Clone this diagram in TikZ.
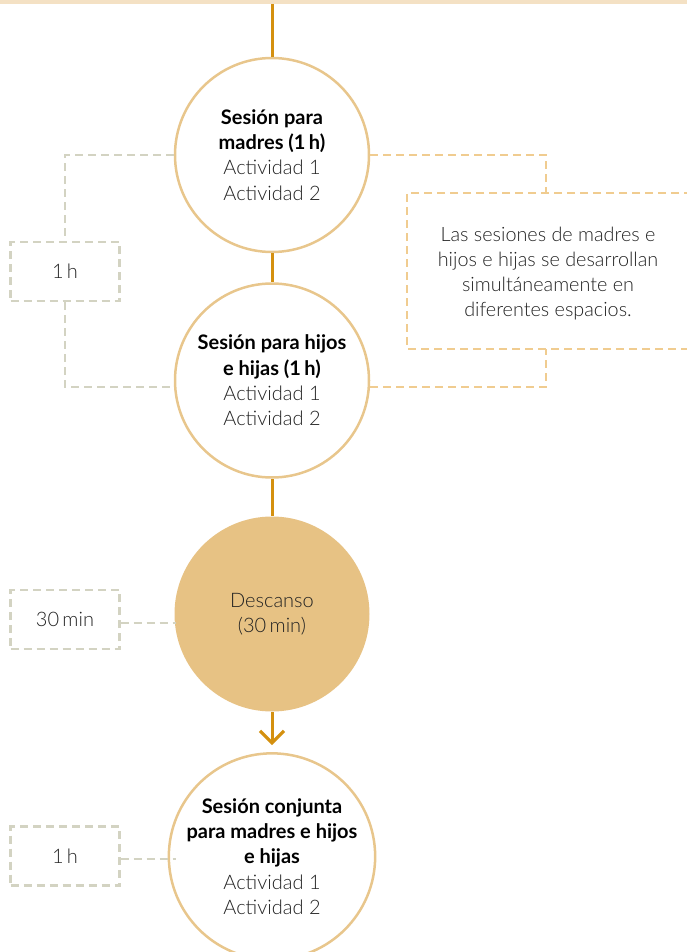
\documentclass[tikz,border=0pt]{standalone}
\usepackage{fontspec}
\setmainfont{Lato}[UprightFont={* Light}, BoldFont={* Bold}]
\usetikzlibrary{arrows.meta,calc}
\definecolor{topbar}{HTML}{F4E1C4}
\definecolor{flow}{HTML}{D4900F}
\definecolor{ring}{HTML}{E8C68C}
\definecolor{restfill}{HTML}{E7C284}
\definecolor{graydash}{HTML}{D3D3C2}
\definecolor{tandash}{HTML}{F0CC90}
\definecolor{txt}{HTML}{222222}
\tikzset{
  x=1pt, y=-1pt,
  sess/.style={circle, draw=ring, line width=2.5pt, minimum size=194pt, inner sep=0pt,
    align=center, text=txt, font=\fontsize{20}{25.3}\selectfont},
  rest/.style={circle, fill=restfill, minimum size=195pt, inner sep=0pt,
    align=center, text=txt, font=\fontsize{20}{25.3}\selectfont},
  timebox/.style={draw=graydash, line width=2.4pt, dash pattern=on 8pt off 5pt,
    minimum width=109pt, minimum height=59pt, inner sep=0pt, text=txt,
    font=\fontsize{20}{24}\selectfont},
  gline/.style={draw=graydash, line width=2.4pt, dash pattern=on 8pt off 5pt},
  tline/.style={draw=tandash, line width=2.4pt, dash pattern=on 8pt off 5pt},
  flowline/.style={draw=flow, line width=3pt},
  note/.style={align=center, text=txt, font=\fontsize{19.8}{25.3}\selectfont},
}
\begin{document}
\begin{tikzpicture}
\useasboundingbox (0,0) rectangle (687,952);
\fill[topbar] (0,0) rectangle (687,4.5);
\coordinate (topstart) at (272,4.5);

\node[sess] (c1) at (272,155) {\textbf{\color{black}Sesión para}\\\textbf{\color{black}madres (1\,h)}\\Actividad 1\\Actividad 2};
\node[sess] (c2) at (272,380.5) {\textbf{\color{black}Sesión para hijos}\\\textbf{\color{black}e hijas (1\,h)}\\Actividad 1\\Actividad 2};
\node[rest] (c3) at (272,614) {Descanso\\(30\,min)};
\node[sess] (c4) at (272,856.5) {\textbf{\color{black}Sesión conjunta}\\\textbf{\color{black}para madres e hijos}\\\textbf{\color{black}e hijas}\\Actividad 1\\Actividad 2};

\draw[flowline] (topstart) -- (c1.north);
\draw[flowline] (c1.south) -- (c2.north);
\draw[flowline] (c2.south) -- (c3.north);
\draw[flowline, -{Straight Barb[length=12pt, width=24pt, line width=3.2pt]}, shorten >=7pt] (c3.south) -- (c4.north);

% left time boxes
\node[timebox] (b1) at (65,271.5) {1\,h};
\node[timebox] (b2) at (65,619.5) {30\,min};
\node[timebox] (b3) at (65,856) {1\,h};

\draw[gline] (c1.west) -| (b1.north);
\draw[gline] (b1.south) |- ($(c2.west)+(0,6.5)$);
\draw[gline] (b2.east |- 0,623) -- (176,623);
\draw[gline] (b3.east |- 0,859) -- (176,859);

% right note
\node[note] (nt) at (548,273.5) {Las sesiones de madres e\\hijos e hijas se desarrollan\\simultáneamente en\\diferentes espacios.};
\draw[tline] (692,193) -- (407,193) -- (407,349) -- (692,349);
\coordinate (ntop) at (546,193);
\coordinate (nbot) at (546,349);
\draw[tline] (c1.east) -| (ntop);
\draw[tline] ($(c2.east)+(0,6.5)$) -| (nbot);
\end{tikzpicture}
\end{document}
